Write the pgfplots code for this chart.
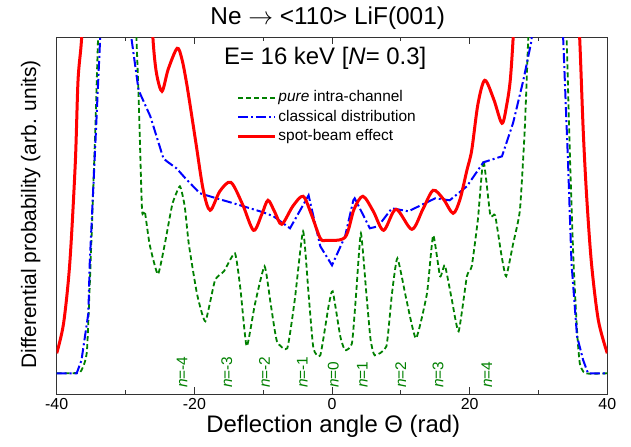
\documentclass[border=0pt]{standalone}
\usepackage{pgfplots}
\pgfplotsset{compat=1.18}
\usepackage{fontspec}
\setmainfont{Liberation Sans}
\definecolor{pgreen}{RGB}{0,128,0}
\definecolor{pblue}{RGB}{0,0,255}
\definecolor{pred}{RGB}{255,0,0}
\begin{document}
\begin{tikzpicture}
\useasboundingbox (-56.7bp,-52.7bp) rectangle (574.3bp,394.3bp);
\begin{axis}[
  at={(0,0)}, anchor=south west,
  scale only axis, width=550.6bp, height=357bp,
  xmin=-40, xmax=40, ymin=0, ymax=357,
  xtick={-40,-20,0,20,40}, xticklabels={-40,-20,0,20,40},
  minor xtick={-30,-10,10,30},
  ytick=\empty,
  tick align=inside, xtick pos=both, xticklabel pos=bottom,
  major tick length=7bp, minor tick length=4bp,
  every tick/.style={black!80, line width=0.9bp},
  axis line style={black!80, line width=1bp},
  tick label style={font=\fontsize{16}{19}\selectfont, inner sep=1bp},
  xticklabel style={yshift=-3bp},
  legend style={draw=none, fill=none, at={(axis description cs:0.327,0.858)}, anchor=north west,
    inner sep=0pt, font=\fontsize{15.5}{18}\selectfont,
    nodes={inner sep=1.5bp, text height=12bp, text depth=4.5bp}},
  legend cell align=left,
]
\addlegendimage{legend image code/.code={\draw[color=pgreen, line width=1.8bp, dash pattern=on 5bp off 3bp] (0bp,0bp) -- (37bp,0bp);}}
\addlegendentry{\textit{pure} intra-channel}
\addlegendimage{legend image code/.code={\draw[color=pblue, line width=2bp, dash pattern=on 10bp off 3bp on 2bp off 3bp] (0bp,0bp) -- (37bp,0bp);}}
\addlegendentry{classical distribution}
\addlegendimage{legend image code/.code={\draw[color=pred, line width=3bp] (0bp,0bp) -- (37bp,0bp);}}
\addlegendentry{spot-beam effect}
\addplot[pgreen, line width=1.8bp, dash pattern=on 5bp off 3bp, smooth, tension=0.3, forget plot] coordinates {
(-40,21) (-38.1,21) (-36.8,21.5) (-36.4,24) (-35.6,44) (-34.9,164) (-34.4,264) (-34.0,354) (-33.6,430) (-31,520) (-28.8,430) (-28.4,354) (-28.1,298) (-27.6,184) (-27.2,183) (-26.5,150) (-25.3,120) (-24.3,150) (-23.2,190) (-22.1,208) (-21.4,188) (-20.8,150) (-19.6,100) (-18.4,73) (-17.0,114) (-15.7,123) (-14.1,141) (-13.3,105) (-12.4,48) (-11.2,90) (-9.8,128) (-8.9,90) (-8.0,53) (-6.5,46) (-5.4,95) (-4.2,163) (-3.4,100) (-2.7,46) (-1.7,39) (-0.5,88) (0.1,103) (1.2,58) (1.9,44) (2.9,51) (3.5,100) (4.2,161) (5.0,100) (5.6,55) (6.2,39) (7.9,48) (8.7,100) (9.5,136) (10.8,95) (12.2,56) (13.8,101) (14.7,159) (15.7,118) (16.4,129) (17.4,95) (18.4,63) (19.6,118) (20.3,128) (21.2,175) (22.0,234) (23.0,179) (23.7,179) (24.6,140) (25.3,118) (26.3,150) (27.3,184) (28.0,264) (28.5,354) (28.9,430) (31,520) (33.7,430) (34.1,354) (34.6,231) (35.1,131) (35.6,64) (36.0,31) (36.8,21) (40,21)
};
\addplot[pblue, line width=2bp, dash pattern=on 10bp off 3bp on 2bp off 3bp, forget plot] coordinates {
(-40,21) (-37.1,21) (-36.4,34) (-35.4,81) (-35.2,131) (-34.4,248) (-33.7,354) (-33.2,430) (-31,500) (-29.5,430) (-29.1,354) (-28.1,304) (-26.4,278) (-24.5,236) (-24.0,233) (-22.6,226) (-21.3,216) (-19.2,201) (-16.8,196) (-14.3,191) (-10.0,182) (-8.5,178) (-6.1,166) (-3.4,199) (-1.7,148) (0,129) (1.9,158) (3.1,194) (3.3,196) (5.5,166) (6.7,168) (8.7,186) (11.1,183) (15.0,196) (17.1,194) (19.6,208) (22.0,232) (24.7,238) (26.3,271) (27.8,314) (29.0,354) (29.5,430) (31.5,500) (33.2,430) (33.6,354) (34.3,231) (34.8,131) (35.6,58) (36.5,34) (37.2,21) (40,21)
};
\addplot[pred, line width=3bp, smooth, tension=0.5, forget plot] coordinates {
(-40,41) (-39.0,71) (-38.1,131) (-37.3,231) (-36.9,314) (-36.4,354) (-35.9,420) (-31,480) (-26.5,420) (-26.0,354) (-25.5,321) (-24.7,303) (-23.8,325) (-22.5,346) (-21.8,335) (-21.1,310) (-20.3,275) (-19.7,248) (-18.7,204) (-17.7,184) (-16.3,203) (-14.7,212) (-13.0,190) (-11.4,164) (-10.2,180) (-9.3,194) (-8.3,182) (-7.3,170) (-5.7,188) (-4.2,198) (-3.0,180) (-1.7,156) (-0.8,154) (1.9,157) (3.2,185) (4.5,198) (6.0,183) (7.5,164) (9.3,185) (11.6,165) (13.2,185) (14.7,204) (16.2,195) (17.6,181) (18.6,195) (19.6,224) (20.3,244) (21.2,290) (22.2,314) (23.5,295) (24.7,271) (25.4,290) (25.9,314) (26.3,354) (26.8,420) (31,480) (35.5,420) (36.0,354) (36.5,264) (37.0,198) (37.7,131) (38.7,74) (40,41)
};
\foreach \xx/\lab in {-21.8/-4,-15.3/-3,-9.8/-2,-4.3/-1,0.2/0,4.4/1,10.0/2,15.4/3,22.5/4}{
  \edef\tmp{\noexpand\node[rotate=90, anchor=west, inner sep=0pt, text=pgreen, font=\noexpand\fontsize{15.5}{18}\noexpand\selectfont] at (axis cs:\xx,6.3) {\noexpand\textit{n}=\lab};}
  \tmp
}
\end{axis}
\node[anchor=base, font=\fontsize{24.5}{28}\selectfont] at (271bp,369.3bp) {Ne $\rightarrow$ <110> LiF(001)};
\node[anchor=base west, inner sep=0pt, font=\fontsize{24}{28}\selectfont] at (167.3bp,329.3bp) {E= 16 keV [\textit{N}= 0.3]};
\node[anchor=base, inner sep=0pt, font=\fontsize{24}{28}\selectfont] at (276.6bp,-38bp) {Deflection angle Θ (rad)};
\node[anchor=base, rotate=90, font=\fontsize{21}{25}\selectfont] at (-20.7bp,180bp) {Differential probability (arb. units)};
\end{tikzpicture}
\end{document}
